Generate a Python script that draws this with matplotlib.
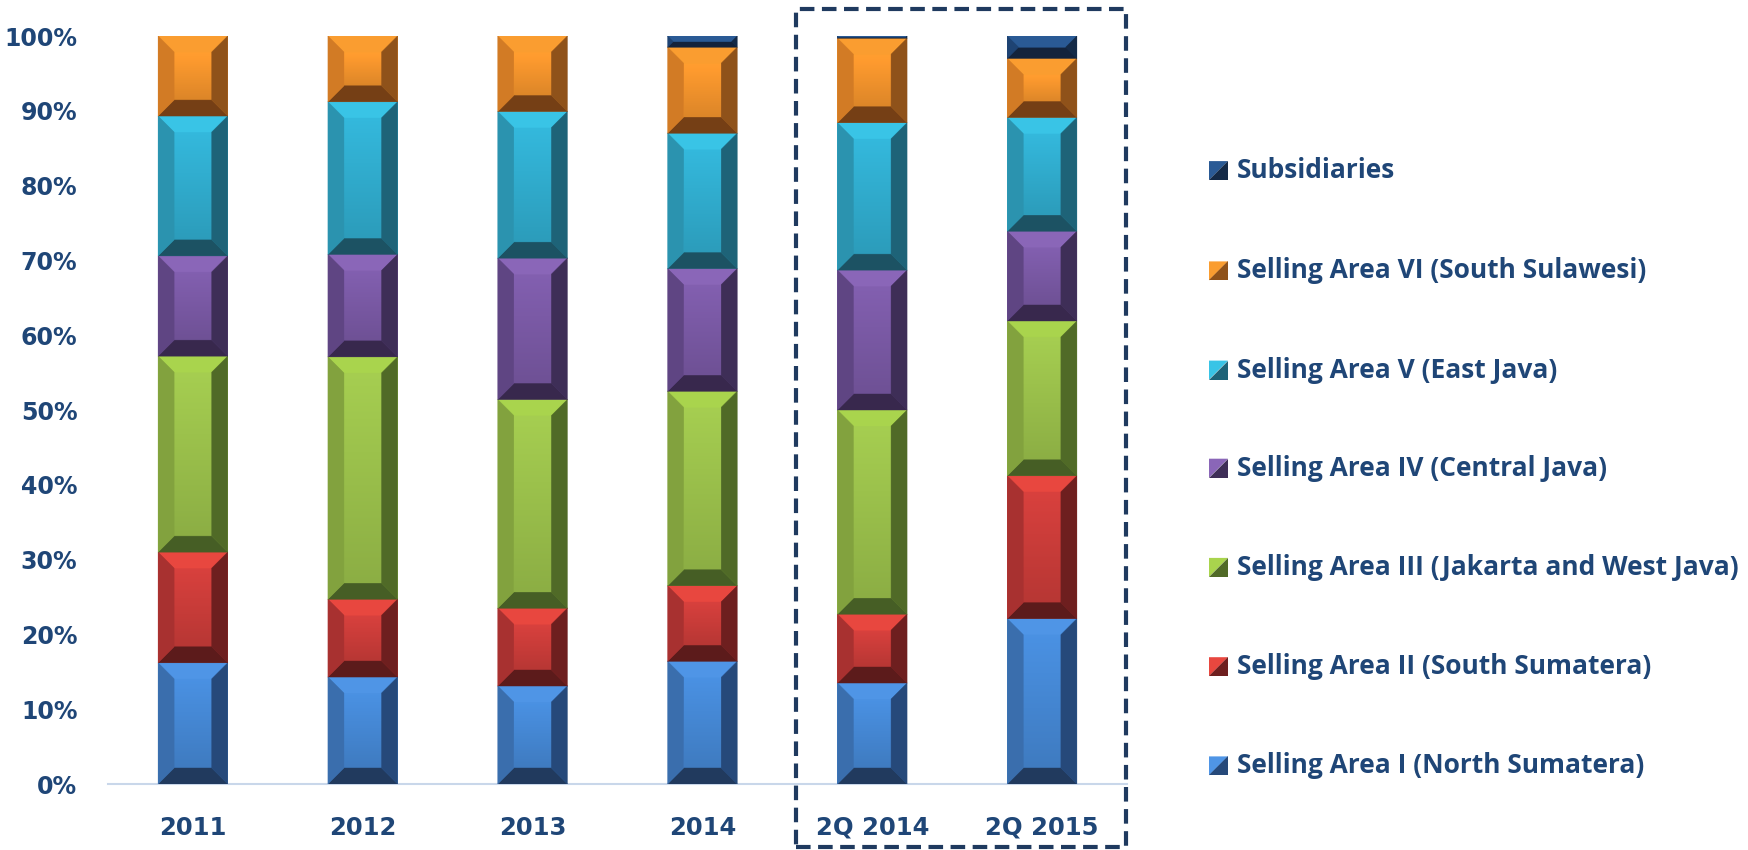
import numpy as np
import matplotlib.pyplot as plt
from matplotlib.patches import Polygon, Rectangle
from matplotlib.colors import to_rgb

# datos (porcentaje de cada area por periodo)
periodos = ['2011', '2012', '2013', '2014', '2Q 2014', '2Q 2015']
series = ['Selling Area I (North Sumatera)',
          'Selling Area II (South Sumatera)',
          'Selling Area III (Jakarta and West Java)',
          'Selling Area IV (Central Java)',
          'Selling Area V (East Java)',
          'Selling Area VI (South Sulawesi)',
          'Subsidiaries']
area_1 = [16.2, 14.3, 13.1, 16.4, 13.5, 22.1]
area_2 = [14.8, 10.4, 10.4, 10.1, 9.2, 19.1]
area_3 = [26.2, 32.4, 27.9, 26.0, 27.3, 20.7]
area_4 = [13.4, 13.7, 18.9, 16.4, 18.7, 12.0]
area_5 = [18.7, 20.4, 19.6, 18.1, 19.7, 15.2]
area_6 = [10.7, 8.8, 10.1, 11.5, 11.3, 7.9]
subsid = [0.0, 0.0, 0.0, 1.5, 0.3, 3.0]
valores = [area_1, area_2, area_3, area_4, area_5, area_6, subsid]

# colores: cara, borde sup, izq, der, inf
colores = [
    ('#4689d6', '#4f95e6', '#3a6ead', '#26497a', '#213a5e'),
    ('#cc3d3a', '#e8473f', '#a83130', '#6e1f1f', '#5c1b1b'),
    ('#9cc24c', '#a9d44d', '#82a23e', '#506a27', '#465e25'),
    ('#7b5aa6', '#8a66b8', '#5f4583', '#3e2e57', '#38284d'),
    ('#31aed0', '#39c4e6', '#2b93af', '#1e6378', '#1c5263'),
    ('#f5952d', '#fa9d30', '#d27b25', '#8f521a', '#753f15'),
    ('#1f4675', '#2a5a95', '#1e4373', '#142a47', '#13233c'),
]
azul_txt = '#1f4677'

fig = plt.figure(figsize=(17.48, 8.5), dpi=100)
ax = fig.add_axes([108 / 1748, 1 - 784 / 850, (1127 - 108) / 1748, (784 - 36) / 850])
ax.set_xlim(-0.5, 5.5)
ax.set_ylim(0, 100)

x = np.arange(len(periodos))
ancho = 0.41
bev = 16  # px

px_x = ax.get_position().width * fig.get_figwidth() * fig.dpi / 6.0
px_y = ax.get_position().height * fig.get_figheight() * fig.dpi / 100.0


def bisel(rect, cols):
    x0, y0 = rect.get_x(), rect.get_y()
    w, h = rect.get_width(), rect.get_height()
    if h <= 0:
        return
    b = min(bev, h * px_y / 2, w * px_x / 2)
    bx, by = b / px_x, b / px_y
    x1, y1 = x0 + w, y0 + h
    cara, sup, izq, der, inf = cols
    caras = [
        ([(x0, y0), (x1, y0), (x1 - bx, y0 + by), (x0 + bx, y0 + by)], inf),
        ([(x0, y1), (x1, y1), (x1 - bx, y1 - by), (x0 + bx, y1 - by)], sup),
        ([(x0, y0), (x0 + bx, y0 + by), (x0 + bx, y1 - by), (x0, y1)], izq),
        ([(x1, y0), (x1 - bx, y0 + by), (x1 - bx, y1 - by), (x1, y1)], der),
    ]
    for pts, c in caras:
        ax.add_patch(Polygon(pts, closed=True, fc=c, ec=c, lw=0.3, zorder=3))
    # degradado en la cara interior
    if y1 - by > y0 + by:
        c = np.array(to_rgb(cara))
        grad = np.linspace(1.06, 0.9, 32)[:, None, None] * c[None, None, :]
        grad = np.clip(grad, 0, 1)
        ax.imshow(grad, extent=(x0 + bx, x1 - bx, y0 + by, y1 - by),
                  aspect='auto', zorder=2.5, interpolation='bilinear')


abajo = np.zeros(len(periodos))
for vals, cols in zip(valores, colores):
    barras = ax.bar(x, vals, ancho, bottom=abajo, color=cols[0], edgecolor='none', zorder=2)
    for r in barras:
        bisel(r, cols)
    abajo += np.array(vals)

ax.set_xlim(-0.5, 5.5)
ax.set_ylim(0, 100)

for s in ['top', 'right', 'left']:
    ax.spines[s].set_visible(False)
ax.spines['bottom'].set_color('#c9d7ea')
ax.spines['bottom'].set_linewidth(1.5)
ax.spines['bottom'].set_zorder(1)

ax.set_xticks(x)
ax.set_xticklabels(periodos)
ax.set_yticks(np.arange(0, 101, 10))
ax.set_yticklabels([f'{v}%' for v in range(0, 101, 10)])
ax.tick_params(axis='both', length=0, colors=azul_txt, labelsize=17)
ax.tick_params(axis='x', pad=23, labelsize=17.5)
ax.tick_params(axis='y', pad=22)
for t in ax.get_xticklabels() + ax.get_yticklabels():
    t.set_fontweight('bold')
    t.set_family('DejaVu Sans')

# recuadro punteado sobre los trimestres
fig.add_artist(Rectangle((796 / 1748, 1 - 847 / 850), (1126 - 796) / 1748, (847 - 9) / 850,
                         transform=fig.transFigure, fill=False, ec='#1f3a5f', lw=3,
                         ls=(0, (3.5, 1.8))))

# leyenda hecha a mano
filas_y = [170.6, 270.9, 370.1, 468.2, 567.4, 666.7, 765.9]
lado = 19
for i, (nombre, cols) in enumerate(zip(series[::-1], colores[::-1])):
    yc = filas_y[i]
    xl, xr = 1209 / 1748, (1209 + lado) / 1748
    yt, yb = 1 - (yc - lado / 2) / 850, 1 - (yc + lado / 2) / 850
    fig.add_artist(Polygon([(xl, yt), (xr, yt), (xl, yb)], closed=True, fc=cols[1], ec='none',
                           transform=fig.transFigure))
    fig.add_artist(Polygon([(xr, yt), (xr, yb), (xl, yb)], closed=True, fc=cols[3], ec='none',
                           transform=fig.transFigure))
    fig.text(1237 / 1748, 1 - yc / 850, nombre, ha='left', va='center', fontsize=19,
             fontweight='bold', family='Open Sans', color=azul_txt)

plt.savefig('out.png', dpi=100)
